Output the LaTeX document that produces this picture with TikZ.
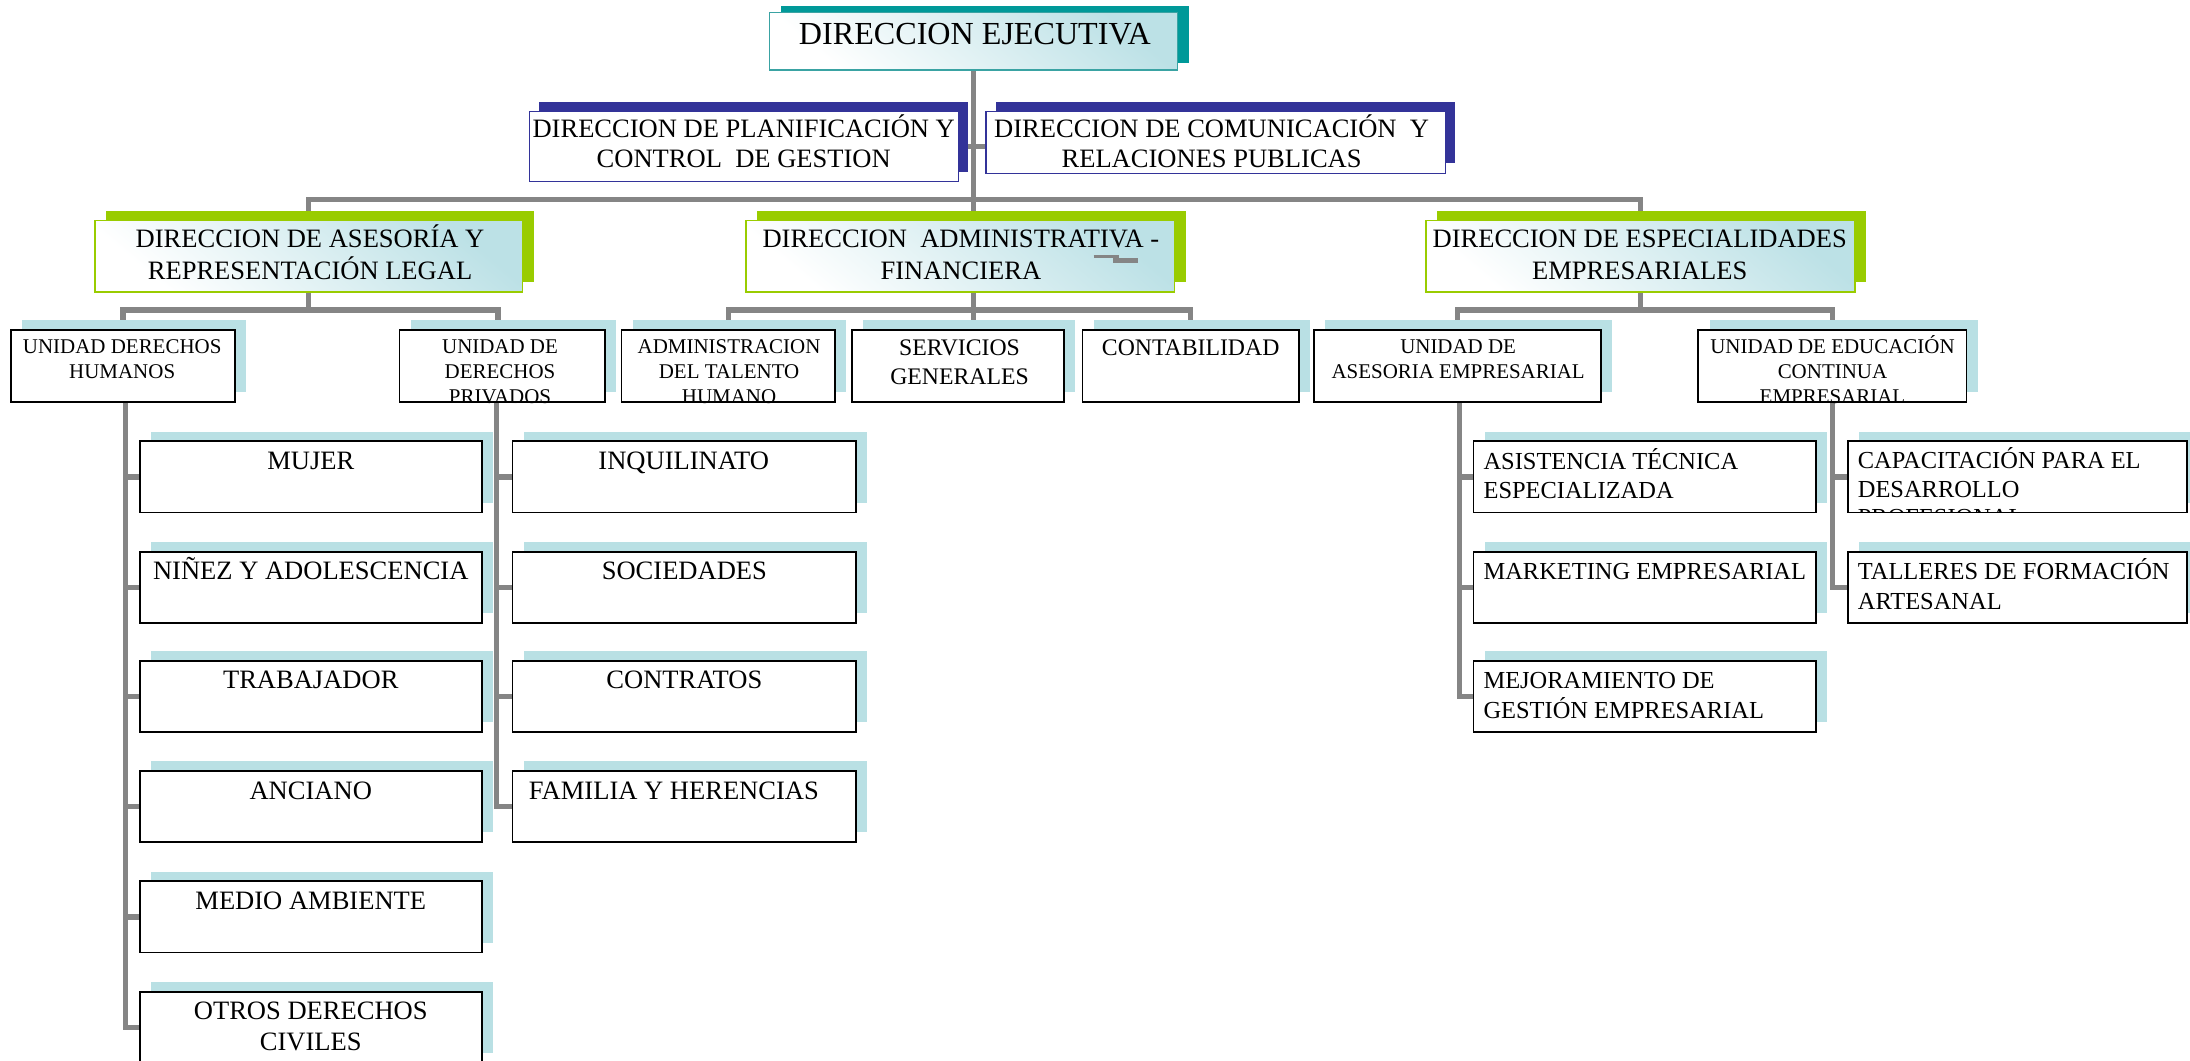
\documentclass[tikz,border=0pt]{standalone}
\usepackage{fontspec}
\setmainfont{Liberation Serif}
\usetikzlibrary{shadows}
\pgfdeclarelayer{conns}
\pgfsetlayers{conns,main}

\definecolor{lineg}{HTML}{858585}
\definecolor{tealsh}{HTML}{009999}
\definecolor{tealbd}{HTML}{3AA3A3}
\definecolor{navy}{HTML}{333399}
\definecolor{lime}{HTML}{99CC00}
\definecolor{pale}{HTML}{B9E0E4}
\definecolor{grad}{HTML}{BCE1E6}

% font sizes of the levels
\newcommand\fA{\fontsize{23}{27}\selectfont}
\newcommand\fB{\fontsize{19}{21.5}\selectfont}
\newcommand\fBL{\fontsize{19}{23}\selectfont}
\newcommand\fC{\fontsize{15}{18}\selectfont}
\newcommand\fD{\fontsize{17}{21}\selectfont}
\newcommand\fE{\fontsize{19}{22}\selectfont}
\newcommand\fF{\fontsize{17.5}{21}\selectfont}
\newcommand\fG{\fontsize{17.5}{20.7}\selectfont}
% fixed first-line height, so every label hangs from the same baseline
\newcommand\lnup{\rule{0pt}{1em}}

\begin{document}
\begin{tikzpicture}[x=1pt,y=-1pt,
  box/.style={inner sep=0pt, outer sep=0pt},
  execbox/.style={box, draw=tealbd, line width=1.1pt,
    top color=grad, bottom color=white, shading angle=-40,
    general shadow={fill=tealsh, shadow xshift=8pt, shadow yshift=5pt}},
  staffbox/.style={box, draw=navy, line width=0.9pt, fill=white,
    general shadow={fill=navy, shadow xshift=7pt, shadow yshift=7pt}},
  dirbox/.style={box, draw=lime, line width=1.1pt,
    top color=grad, bottom color=white, shading angle=-40,
    general shadow={fill=lime, shadow xshift=8pt, shadow yshift=7pt}},
  unitbox/.style={box, draw=black, line width=1.3pt, fill=white,
    general shadow={fill=pale, shadow xshift=8pt, shadow yshift=7pt}},
  conn/.style={draw=lineg, line width=3.8pt},
  lbl/.style={inner sep=0pt, anchor=north, align=center},
  lbll/.style={inner sep=0pt, anchor=north west, align=left},
]
\useasboundingbox (0,0) rectangle (1568,759);

% ---------- boxes ----------
\node[execbox, minimum width=292pt, minimum height=41pt] (exec) at (697,29.5) {};
\node[staffbox, minimum width=307pt, minimum height=50pt] (plan) at (532.5,105) {};
\node[staffbox, minimum width=329pt, minimum height=44pt] (comm) at (870.5,102) {};

\node[dirbox, minimum width=306pt, minimum height=51pt] (legal) at (221,183.5) {};
\node[dirbox, minimum width=307pt, minimum height=51pt] (admin) at (687.5,183.5) {};
\node[dirbox, minimum width=307pt, minimum height=51pt] (esp) at (1174.5,183.5) {};

\node[unitbox, minimum width=160pt, minimum height=52pt] (udh) at (88,262) {};
\node[unitbox, minimum width=147pt, minimum height=52pt] (udp) at (359.5,262) {};
\node[unitbox, minimum width=153pt, minimum height=52pt] (ath) at (521.5,262) {};
\node[unitbox, minimum width=152pt, minimum height=52pt] (sg) at (686,262) {};
\node[unitbox, minimum width=155pt, minimum height=52pt] (cont) at (852.5,262) {};
\node[unitbox, minimum width=205pt, minimum height=52pt] (uae) at (1043.5,262) {};
\node[unitbox, minimum width=192pt, minimum height=52pt] (uec) at (1312,262) {};

\foreach \n/\y in {mujer/341.5, ninez/420.5, trab/498.5, anc/577.5, medio/656.5, otros/735.5}
  \node[unitbox, minimum width=245pt, minimum height=51pt] (\n) at (222.5,\y) {};
\foreach \n/\y in {inq/341.5, soc/420.5, contr/498.5, fam/577.5}
  \node[unitbox, minimum width=246pt, minimum height=51pt] (\n) at (490,\y) {};
\foreach \n/\y in {asis/341.5, mark/420.5, mejo/498.5}
  \node[unitbox, minimum width=245pt, minimum height=51pt] (\n) at (1177.5,\y) {};
\foreach \n/\y in {capa/341.5, tall/420.5}
  \node[unitbox, minimum width=243pt, minimum height=51pt] (\n) at (1444.5,\y) {};

% ---------- connectors ----------
\begin{pgfonlayer}{conns}
\coordinate (hub) at (697,143);
\draw[conn] (exec.south) -- (hub);
\draw[conn] (plan.east) -- (comm.west |- plan.east);
\draw[conn] (legal.north) |- (hub) -| (esp.north);
\draw[conn] (hub) -- (hub |- admin.north);

\coordinate (lhub) at (221,222);
\draw[conn] (legal.south) -- (lhub);
\draw[conn] (udh.north) |- (lhub) -| ([xshift=-3pt]udp.north);

\coordinate (ahub) at (697,222);
\draw[conn] (hub |- admin.south) -- (ahub);
\draw[conn] (ath.north) |- (ahub) -| (cont.north);
\draw[conn] (ahub) -- (ahub |- sg.north);

\coordinate (ehub) at (1174.5,222);
\draw[conn] (esp.south) -- (ehub);
\draw[conn] (uae.north) |- (ehub) -| (uec.north);

\foreach \n in {mujer, ninez, trab, anc, medio, otros}
  \draw[conn] ([xshift=2pt]udh.south) |- (\n.west);
\foreach \n in {inq, soc, contr, fam}
  \draw[conn] ([xshift=-4pt]udp.south) |- (\n.west);
\foreach \n in {asis, mark, mejo}
  \draw[conn] ([xshift=1.5pt]uae.south) |- (\n.west);
\foreach \n in {capa, tall}
  \draw[conn] (uec.south) |- (\n.west);
\end{pgfonlayer}

% small grey stroke inside the administrative box
\draw[lineg, line width=2pt] (783,183.5) -- (801,183.5);
\draw[lineg, line width=3pt] (797,186.5) -- (815,186.5);

% ---------- labels ----------
\node[lbl, font=\fA] (exect) at (698,9) {\lnup DIRECCION EJECUTIVA};
\node[lbl, font=\fB] (plant) at (532.5,79) {\lnup DIRECCION DE PLANIFICACIÓN Y\\CONTROL~ DE GESTION};
\node[lbl, font=\fB] (commt) at (867.5,79) {\lnup DIRECCION DE COMUNICACIÓN~ Y\\RELACIONES PUBLICAS};

\node[lbl, font=\fBL] (legalt) at (222,158) {\lnup DIRECCION DE ASESORÍA Y\\REPRESENTACIÓN LEGAL};
\node[lbl, font=\fBL] (admint) at (688,158) {\lnup DIRECCION~ ADMINISTRATIVA -\\FINANCIERA};
\node[lbl, font=\fBL] (espt) at (1174,158) {\lnup DIRECCION DE ESPECIALIDADES\\EMPRESARIALES};

\node[lbl, font=\fC] (udht) at (87.5,238) {\lnup UNIDAD DERECHOS\\HUMANOS};
\node[lbl, font=\fC] (udpt) at (358,238) {\lnup UNIDAD DE\\DERECHOS\\PRIVADOS};
\node[lbl, font=\fC] (atht) at (522,238) {\lnup ADMINISTRACION\\DEL TALENTO\\HUMANO};
\node[lbl, font=\fD] (sgt) at (687,237) {\lnup SERVICIOS\\GENERALES};
\node[lbl, font=\fD] (contt) at (852.5,237) {\lnup CONTABILIDAD};
\node[lbl, font=\fC] (uaet) at (1044,238) {\lnup UNIDAD DE\\ASESORIA EMPRESARIAL};
\node[lbl, font=\fC] (uect) at (1312,238) {\lnup UNIDAD DE EDUCACIÓN\\CONTINUA\\EMPRESARIAL};

\node[lbl, font=\fE] (mujert) at (222.5,317) {\lnup MUJER};
\node[lbl, font=\fE] (ninezt) at (222.5,396) {\lnup NIÑEZ Y ADOLESCENCIA};
\node[lbl, font=\fE] (trabt) at (222.5,474) {\lnup TRABAJADOR};
\node[lbl, font=\fE] (anct) at (222.5,553) {\lnup ANCIANO};
\node[lbl, font=\fE] (mediot) at (222.5,632) {\lnup MEDIO AMBIENTE};
\node[lbl, font=\fE] (otrost) at (222.5,711) {\lnup OTROS DERECHOS\\CIVILES};

\node[lbl, font=\fE] (inqt) at (489.5,317) {\lnup INQUILINATO};
\node[lbl, font=\fE] (soct) at (490,396) {\lnup SOCIEDADES};
\node[lbl, font=\fE] (contrt) at (490,474) {\lnup CONTRATOS};
\node[lbl, font=\fE] (famt) at (482.5,553) {\lnup FAMILIA Y HERENCIAS};

\node[lbll, font=\fF] (asist) at (1062,318.5) {\lnup ASISTENCIA TÉCNICA\\ESPECIALIZADA};
\node[lbll, font=\fF] (markt) at (1062,397.5) {\lnup MARKETING EMPRESARIAL};
\node[lbll, font=\fF] (mejot) at (1062,475.5) {\lnup MEJORAMIENTO DE\\GESTIÓN EMPRESARIAL};

% the third line runs past the box and is cut off by its lower edge
\begin{scope}
  \clip (capa.north west) rectangle (capa.south east);
  \node[lbll, font=\fG] (capat) at (1330,317.5) {\lnup CAPACITACIÓN PARA EL\\DESARROLLO\\PROFESIONAL};
\end{scope}
\node[lbll, font=\fF] (tallt) at (1330,397.5) {\lnup TALLERES DE FORMACIÓN\\ARTESANAL};

\end{tikzpicture}
\end{document}
